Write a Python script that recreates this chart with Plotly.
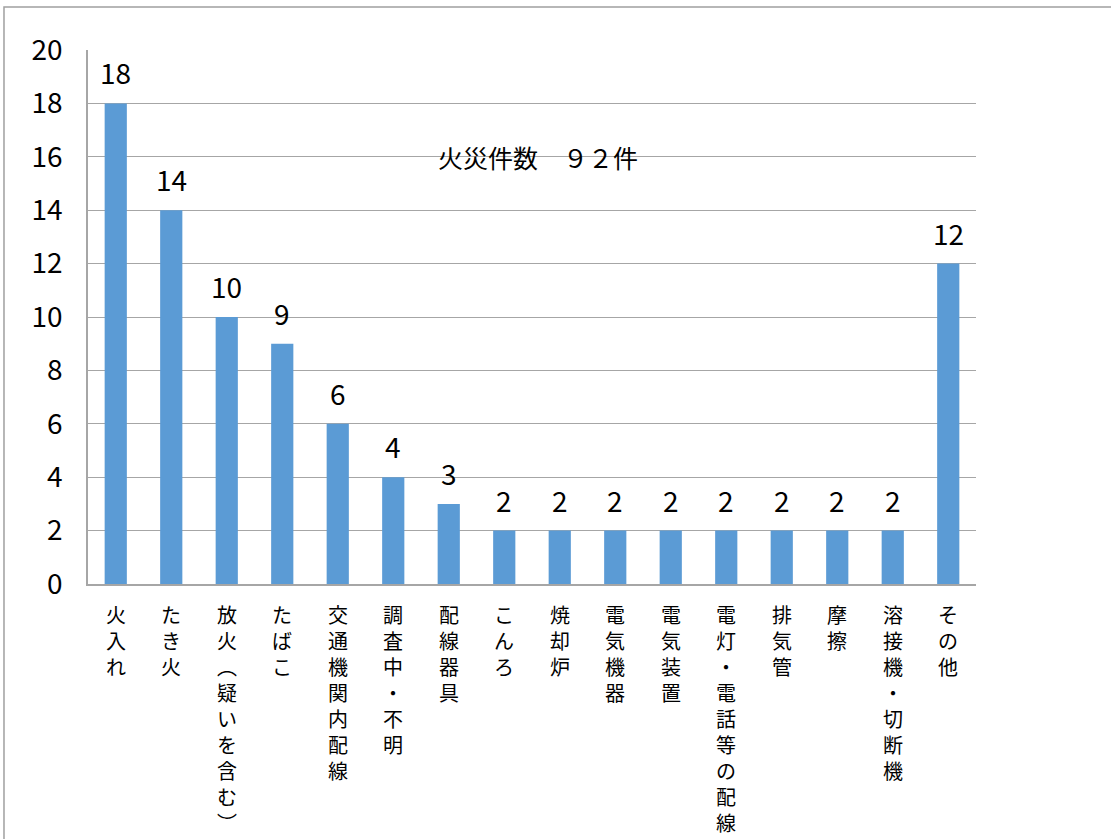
import plotly.graph_objects as go

# Fire causes and number of incidents
categories = ["火入れ", "たき火", "放火（疑いを含む）", "たばこ", "交通機関内配線", "調査中・不明",
              "配線器具", "こんろ", "焼却炉", "電気機器", "電気装置", "電灯・電話等の配線",
              "排気管", "摩擦", "溶接機・切断機", "その他"]
counts = [18, 14, 10, 9, 6, 4, 3, 2, 2, 2, 2, 2, 2, 2, 2, 12]
y_ticks = [0, 2, 4, 6, 8, 10, 12, 14, 16, 18, 20]
total_label = "火災件数　９２件"

FONT = "Noto Sans CJK JP"
GRID = "#A6A6A6"

# vertical-writing forms for brackets
VERTICAL_FORMS = {"（": "︵", "）": "︶"}


def vertical(label):
    return "<br>".join(VERTICAL_FORMS.get(ch, ch) for ch in label)


fig = go.Figure(go.Bar(
    x=categories,
    y=counts,
    marker=dict(color="#5B9BD5", line=dict(width=0)),
    width=0.4,
))

# Value labels above each bar
annotations = [dict(
    x=cat, xref="x", y=val, yref="y",
    text=str(val), showarrow=False,
    xanchor="center", yanchor="bottom", yshift=9,
    font=dict(family=FONT, size=28, color="#000000"),
) for cat, val in zip(categories, counts)]

# Category names written vertically below the axis
annotations += [dict(
    x=cat, xref="x", y=0, yref="paper",
    text=vertical(cat), showarrow=False,
    xanchor="center", yanchor="top", yshift=-14,
    font=dict(family=FONT, size=20, color="#000000"),
) for cat in categories]

annotations.append(dict(
    x=0.507, xref="paper", y=16, yref="y",
    text=total_label, showarrow=False,
    xanchor="center", yanchor="middle",
    font=dict(family=FONT, size=25, color="#000000"),
))

fig.update_layout(
    width=1111, height=839,
    margin=dict(l=88, r=135, t=50, b=255),
    paper_bgcolor="white", plot_bgcolor="white",
    showlegend=False,
    annotations=annotations,
    shapes=[dict(type="rect", xref="paper", yref="paper",
                 x0=-0.0946, x1=1.3, y0=1.0805, y1=-0.6,
                 line=dict(color="#A0A0A0", width=1.5), layer="below")],
    xaxis=dict(showticklabels=False, showgrid=False, showline=True,
               linecolor=GRID, linewidth=1.5, ticks=""),
    yaxis=dict(range=[0, 20], tickvals=y_ticks, showgrid=True, gridcolor=GRID,
               gridwidth=1.2, showline=True, linecolor=GRID, linewidth=1.5,
               ticks="", zeroline=False, ticklabelstandoff=18,
               tickfont=dict(family=FONT, size=28, color="#000000")),
)

fig.write_html("out.html")
